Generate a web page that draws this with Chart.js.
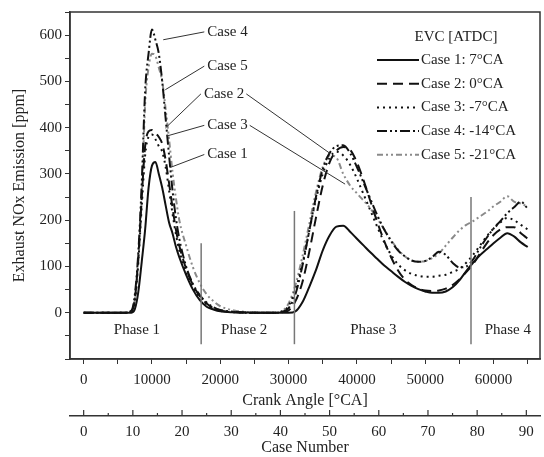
<!DOCTYPE html>
<html>
<head>
<meta charset="utf-8">
<script src="https://cdn.jsdelivr.net/npm/chart.js@4.4.1/dist/chart.umd.min.js"></script>
<style>
  html, body { margin: 0; padding: 0; background: #fff; }
</style>
</head>
<body>
<canvas id="noxChart" width="544" height="457"></canvas>
<script>
// crank angle samples [deg CA]
const crankAngle = [0, 6000, 7000, 7500, 8000, 8500, 9000, 9500, 10000, 10500,
  11000, 11500, 12000, 12500, 13000, 13500, 14000, 15000, 16000, 17000,
  18000, 19000, 20000, 22000, 25000, 28000, 29000, 30000, 31000, 32000,
  33000, 34000, 35000, 36000, 37000, 38000, 39000, 40000, 41000, 42000,
  43000, 44000, 45000, 46000, 47000, 48000, 49000, 50000, 51000, 52000,
  53000, 54000, 55000, 56000, 57000, 58000, 59000, 60000, 61000, 62000,
  63000, 64000, 65000];

// exhaust NOx [ppm]
const case1 = [0, 0, 0, 8, 45, 110, 180, 270, 318, 326,
  300, 270, 232, 195, 172, 143, 120, 82, 50, 27,
  13, 7, 3, 1, 0, 0, 0, 0, 3, 22,
  55, 92, 135, 167, 186, 188, 175, 160, 145, 130,
  116, 102, 90, 78, 67, 58, 51, 46, 43, 43,
  46, 55, 70, 90, 108, 124, 137, 150, 162, 172,
  165, 152, 142];
const case2 = [0, 0, 3, 30, 120, 250, 360, 392, 395, 388,
  380, 365, 330, 280, 228, 180, 145, 95, 60, 36,
  20, 10, 5, 1, 0, 0, 1, 5, 25, 65,
  130, 205, 275, 325, 350, 358, 352, 325, 285, 240,
  195, 155, 120, 92, 72, 60, 52, 48, 47, 48,
  52, 60, 72, 88, 105, 128, 150, 168, 180, 185,
  185, 172, 160];
const case3 = [0, 0, 3, 25, 110, 230, 340, 380, 385, 375,
  360, 348, 315, 265, 215, 170, 135, 88, 55, 33,
  18, 9, 4, 1, 0, 0, 3, 15, 50, 105,
  175, 245, 300, 335, 348, 340, 320, 290, 255, 220,
  185, 152, 125, 105, 92, 84, 80, 78, 78, 80,
  82, 88, 95, 108, 125, 145, 165, 182, 195, 205,
  200, 190, 180];
const case4 = [0, 0, 5, 40, 130, 280, 480, 560, 612, 590,
  560, 500, 420, 340, 265, 205, 160, 100, 62, 38,
  22, 12, 6, 2, 0, 0, 2, 10, 40, 100,
  175, 250, 310, 345, 360, 362, 345, 315, 280, 245,
  210, 180, 155, 135, 122, 113, 110, 112, 120, 132,
  125, 108, 98, 100, 115, 140, 162, 182, 198, 215,
  228, 240, 225];
const case5 = [0, 0, 3, 30, 110, 250, 450, 530, 560, 555,
  530, 500, 440, 375, 305, 248, 200, 145, 98, 64,
  40, 25, 14, 5, 1, 0, 3, 20, 60, 120,
  190, 260, 315, 340, 335, 300, 275, 258, 242, 225,
  203, 180, 157, 137, 122, 113, 110, 112, 118, 128,
  145, 162, 178, 190, 198, 208, 218, 230, 240, 252,
  240, 236, 229];

const seriesNames = ['Case 1: 7°CA', 'Case 2: 0°CA', 'Case 3: -7°CA', 'Case 4: -14°CA', 'Case 5: -21°CA'];

// tick positions
const crankTicks = [0, 5000, 10000, 15000, 20000, 25000, 30000, 35000, 40000, 45000, 50000, 55000, 60000, 65000];
const caseTicks = [0, 5, 10, 15, 20, 25, 30, 35, 40, 45, 50, 55, 60, 65, 70, 75, 80, 85, 90];
const noxTicks = [-100, -50, 0, 50, 100, 150, 200, 250, 300, 350, 400, 450, 500, 550, 600, 650];

const phaseNames = ['Phase 1', 'Phase 2', 'Phase 3', 'Phase 4'];
const phaseCenters = [7800, 23500, 42400, 62100];
const phaseBounds = [17200, 30850, 56700];
const phaseTops = [150, 220, 250];

const degPerCycle = 720;
const serif = '"Liberation Serif", "Times New Roman", serif';

// text callouts, in data coordinates
const callouts = [
  { text: 'Case 4', at: [18100, 607], tip: [11650, 590] },
  { text: 'Case 5', at: [18100, 533], tip: [11950, 482] },
  { text: 'Case 2', at: [17600, 473], tip: [11950, 399], far: [36100, 344] },
  { text: 'Case 3', at: [18100, 405], tip: [12190, 382], far: [38270, 278] },
  { text: 'Case 1', at: [18100, 342], tip: [12680, 314] }
];

const styles = [
  { color: '#111', dash: [] },
  { color: '#111', dash: [10, 6] },
  { color: '#111', dash: [2, 4] },
  { color: '#111', dash: [10, 3, 2, 3, 2, 3] },
  { color: '#8a8a8a', dash: [6, 3, 2, 3, 2, 3] }
];

const allCases = [case1, case2, case3, case4, case5];
const datasets = allCases.map((vals, i) => ({
  label: seriesNames[i],
  data: crankAngle.map((ca, j) => ({ x: ca, y: vals[j] })),
  borderColor: styles[i].color,
  borderDash: styles[i].dash,
  borderWidth: 2,
  pointRadius: 0,
  fill: false,
  cubicInterpolationMode: 'monotone'
}));

const overlay = {
  id: 'overlay',
  afterDraw(chart) {
    const { ctx, chartArea: a, scales } = chart;
    const sx = scales.x, sy = scales.y, sc = scales.caseNo;
    const px = v => sx.getPixelForValue(v);
    const py = v => sy.getPixelForValue(v);
    ctx.save();

    // frame
    ctx.strokeStyle = '#333';
    ctx.lineWidth = 1.5;
    ctx.strokeRect(a.left, a.top, a.right - a.left, a.bottom - a.top);

    // phase dividers
    ctx.strokeStyle = '#777';
    ctx.lineWidth = 1.5;
    phaseBounds.forEach((ca, i) => {
      ctx.beginPath();
      ctx.moveTo(px(ca), py(phaseTops[i]));
      ctx.lineTo(px(ca), py(-68));
      ctx.stroke();
    });

    ctx.fillStyle = '#222';
    ctx.font = '15px ' + serif;
    ctx.textBaseline = 'middle';
    ctx.textAlign = 'center';
    phaseNames.forEach((n, i) => ctx.fillText(n, px(phaseCenters[i]), py(-38)));

    // callouts
    ctx.textAlign = 'left';
    ctx.strokeStyle = '#333';
    ctx.lineWidth = 1;
    callouts.forEach(c => {
      const tx = px(c.at[0]), ty = py(c.at[1]);
      ctx.fillText(c.text, tx, ty);
      ctx.beginPath();
      ctx.moveTo(tx - 3, ty);
      ctx.lineTo(px(c.tip[0]), py(c.tip[1]));
      if (c.far) {
        const w = ctx.measureText(c.text).width;
        ctx.moveTo(tx + w + 2, ty);
        ctx.lineTo(px(c.far[0]), py(c.far[1]));
      }
      ctx.stroke();
    });

    // legend
    const lx = a.right - 163;
    ctx.textAlign = 'center';
    ctx.fillText('EVC [ATDC]', a.right - 84, a.top + 25);
    ctx.textAlign = 'left';
    chart.data.datasets.forEach((ds, i) => {
      const ly = a.top + 48 + i * 23.7;
      ctx.strokeStyle = ds.borderColor;
      ctx.lineWidth = 2;
      ctx.setLineDash(ds.borderDash);
      ctx.beginPath();
      ctx.moveTo(lx, ly);
      ctx.lineTo(lx + 42, ly);
      ctx.stroke();
      ctx.setLineDash([]);
      ctx.fillStyle = '#222';
      ctx.fillText(ds.label, lx + 44, ly);
    });

    // case number axis ticks point upward
    ctx.strokeStyle = '#333';
    ctx.lineWidth = 1.2;
    caseTicks.forEach(v => {
      const x = sc.getPixelForValue(v);
      ctx.beginPath();
      ctx.moveTo(x, sc.top);
      ctx.lineTo(x, sc.top - (v % 10 === 0 ? 6 : 3));
      ctx.stroke();
    });
    ctx.restore();
  }
};

const xMin = -2000, xMax = 66800;
const tickFont = { family: serif, size: 15 };
const titleFont = { family: serif, size: 16 };
const useTicks = list => s => { s.ticks = list.map(v => ({ value: v })); };

new Chart(document.getElementById('noxChart'), {
  type: 'line',
  data: { datasets },
  options: {
    responsive: false,
    animation: false,
    devicePixelRatio: 1,
    layout: { padding: { top: 7, right: 4, left: 0, bottom: 0 } },
    plugins: { legend: { display: false }, tooltip: { enabled: false } },
    scales: {
      x: {
        type: 'linear', position: 'bottom', weight: 0,
        min: xMin, max: xMax,
        afterBuildTicks: useTicks(crankTicks),
        border: { display: true, color: '#333', width: 1.5 },
        grid: { drawOnChartArea: false, drawTicks: true, tickLength: 5, tickColor: '#333' },
        ticks: {
          autoSkip: false, maxRotation: 0,
          padding: 7, color: '#222', font: tickFont,
          callback: v => (v >= 0 && v % 10000 === 0 ? String(v) : '')
        },
        title: { display: true, text: 'Crank Angle [°CA]', color: '#222', font: titleFont, padding: { top: 0, bottom: 6 } },
        afterFit: s => { s.height = 57; }
      },
      caseNo: {
        type: 'linear', axis: 'x', position: 'bottom', weight: 1,
        min: xMin / degPerCycle, max: xMax / degPerCycle,
        afterBuildTicks: useTicks(caseTicks),
        border: { display: true, color: '#333', width: 1.5 },
        grid: { drawOnChartArea: false, drawTicks: false },
        ticks: {
          autoSkip: false, maxRotation: 0,
          padding: 7, color: '#222', font: tickFont,
          callback: v => (v >= 0 && v % 10 === 0 ? String(v) : '')
        },
        title: { display: true, text: 'Case Number', color: '#222', font: titleFont, padding: { top: 0, bottom: 0 } },
        afterFit: s => { s.height = 41; }
      },
      y: {
        type: 'linear', position: 'left',
        min: -100, max: 650,
        afterBuildTicks: useTicks(noxTicks),
        border: { display: true, color: '#333', width: 1.5 },
        grid: { drawOnChartArea: false, drawTicks: true, tickLength: 5, tickColor: '#333' },
        ticks: {
          autoSkip: false, padding: 3, color: '#222', font: tickFont,
          callback: v => (v >= 0 && v % 100 === 0 ? String(v) : '')
        },
        title: { display: true, text: 'Exhaust NOx Emission [ppm]', color: '#222', font: titleFont, padding: { top: 10, bottom: 0 } },
        afterFit: s => { s.width = 70; }
      }
    }
  },
  plugins: [overlay]
});
</script>
</body>
</html>
